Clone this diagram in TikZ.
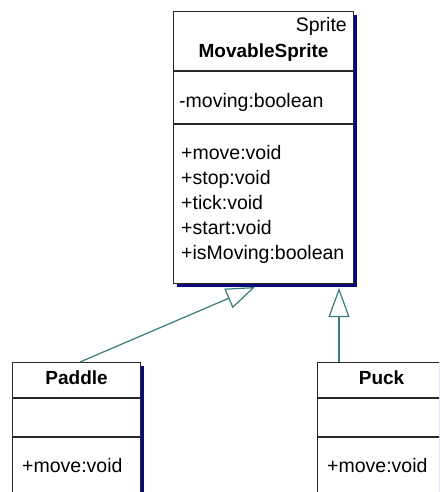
\documentclass[tikz,border=0pt]{standalone}
\usepackage{fontspec}
\setmainfont{Liberation Sans}
\usetikzlibrary{arrows.meta,shadows}
\definecolor{boxline}{RGB}{40,40,40}
\definecolor{shadowblue}{RGB}{10,10,120}
\definecolor{assoc}{RGB}{55,125,125}
\begin{document}
\begin{tikzpicture}[x=1pt,y=-1pt,
  classbox/.style={draw=boxline, line width=1.2pt, fill=white, inner sep=0pt,
    anchor=north west,
    general shadow={fill=shadowblue, shadow xshift=3.5pt, shadow yshift=-3.5pt}},
  divider/.style={draw=boxline, line width=1.2pt},
  lbl/.style={inner sep=0pt, font=\fontsize{19.5}{23}\selectfont},
  title/.style={lbl, font=\fontsize{19}{23}\selectfont\bfseries, anchor=base},
  member/.style={lbl, anchor=base west},
  gen/.style={draw=assoc, line width=1.2pt,
    -{Triangle[open, length=29pt, width=21pt, line width=1.2pt]}}]
\useasboundingbox (0,0) rectangle (439,492);
\clip (0,0) rectangle (439,492);

% MovableSprite class
\node[classbox, minimum width=180pt, minimum height=272pt] (ms) at (173,11) {};
\draw[divider] (ms.west |- 0,71) -- (ms.east |- 0,71);
\draw[divider] (ms.west |- 0,124) -- (ms.east |- 0,124);
\node[lbl, anchor=base east] (stereo) at (347,32) {Sprite};
\node[title] (msname) at (ms.center |- 0,58) {MovableSprite};
\node[member] (attr) at (179,107) {-moving:boolean};
\node[member] (m1) at (181,159) {+move:void};
\node[member] (m2) at (181,184) {+stop:void};
\node[member] (m3) at (181,209) {+tick:void};
\node[member] (m4) at (181,234) {+start:void};
\node[member] (m5) at (181,259) {+isMoving:boolean};

% Paddle class
\node[classbox, minimum width=128pt, minimum height=150pt] (paddle) at (12,362) {};
\draw[divider] (paddle.west |- 0,398) -- (paddle.east |- 0,398);
\draw[divider] (paddle.west |- 0,437) -- (paddle.east |- 0,437);
\node[title] (padname) at (paddle.center |- 0,384) {Paddle};
\node[member] (padm) at (22,472) {+move:void};

% Puck class
\node[classbox, minimum width=128pt, minimum height=150pt] (puck) at (317,362) {};
\draw[divider] (puck.west |- 0,398) -- (puck.east |- 0,398);
\draw[divider] (puck.west |- 0,437) -- (puck.east |- 0,437);
\node[title] (puckname) at (puck.center |- 0,384) {Puck};
\node[member] (puckm) at (327,472) {+move:void};

% generalisation arrows
\coordinate (padtip) at (255,287);
\coordinate (pucktip) at (339,288);
\draw[gen] (paddle.north -| 80,0) -- (padtip);
\draw[gen] (puck.north -| 339,0) -- (pucktip);
\end{tikzpicture}
\end{document}
